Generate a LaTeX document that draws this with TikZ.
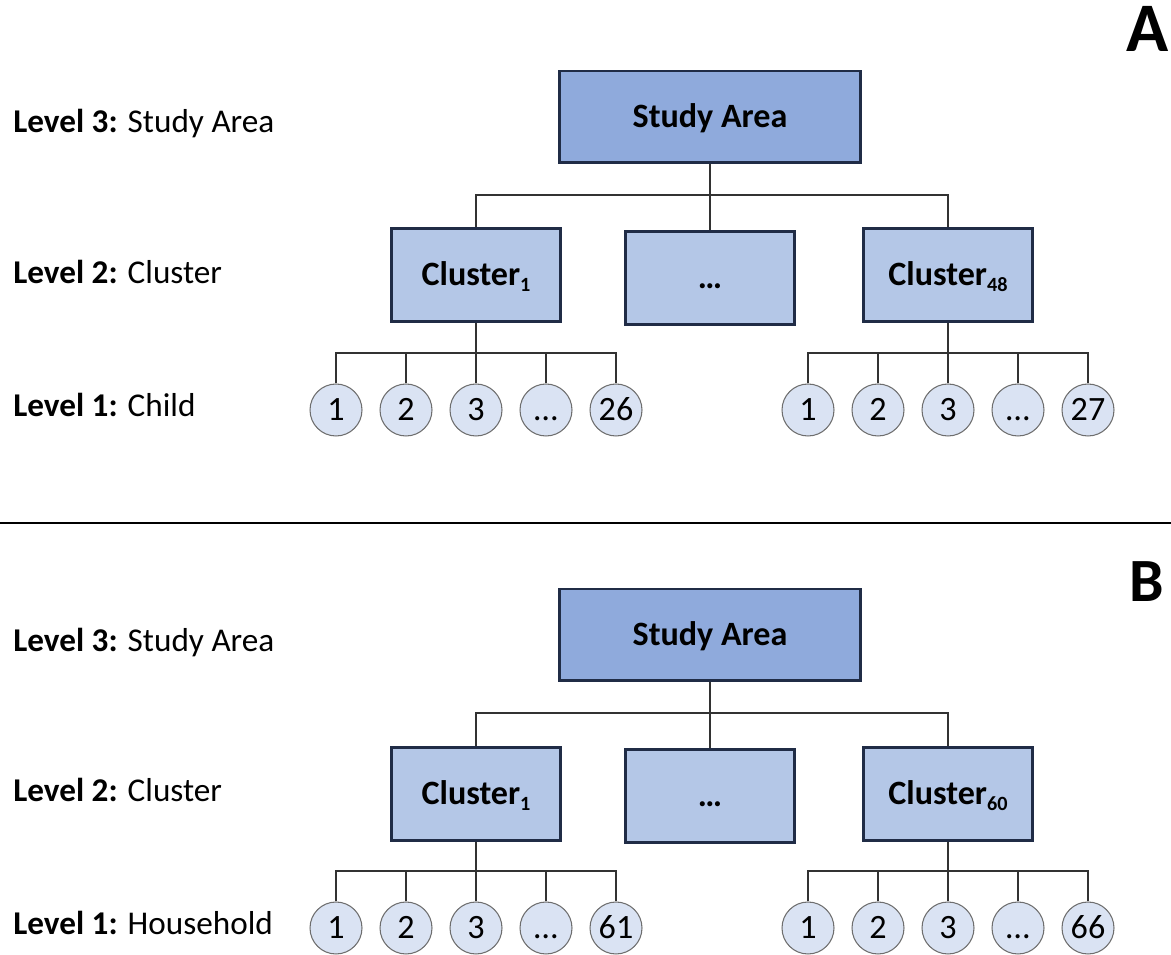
\documentclass[tikz,border=0pt]{standalone}
\usepackage{fontspec}
\setmainfont{Carlito}
\usepackage{tikz}
\definecolor{areablue}{RGB}{143,170,220}
\definecolor{clusterblue}{RGB}{180,199,231}
\definecolor{unitblue}{RGB}{218,227,243}
\definecolor{navy}{RGB}{32,44,70}
\definecolor{ringgrey}{RGB}{110,110,110}
\definecolor{linegrey}{RGB}{50,50,50}
\newcommand{\clidx}[1]{\raisebox{-3.4pt}{\fontsize{11.5}{11.5}\selectfont #1}}
\tikzset{%
    area/.style={draw=navy, line width=1.7pt, fill=areablue,
        minimum width=6.04cm, minimum height=1.84cm,
        text height=12.3pt, text depth=0pt,
        font=\fontsize{19.4}{22}\selectfont\bfseries},
    cluster/.style={draw=navy, line width=1.7pt, fill=clusterblue,
        minimum width=3.38cm, minimum height=1.86cm,
        text height=12.3pt, text depth=0pt,
        font=\fontsize{19.4}{22}\selectfont\bfseries},
    unit/.style={circle, draw=ringgrey, line width=0.6pt, fill=unitblue,
        minimum size=1.04cm, inner sep=0pt,
        text height=12.3pt, text depth=0pt,
        font=\fontsize{19.4}{22}\selectfont},
    level/.style={anchor=base west, inner sep=0pt, font=\fontsize{18.9}{21}\selectfont},
    panel/.style={anchor=base, inner sep=0pt},
    branch/.style={draw=linegrey, line width=0.8pt}
}

\begin{document}
\begin{tikzpicture}[x=0.02cm, y=-0.02cm]
    \useasboundingbox (0,0) rectangle (1171,955);
%    panel A
    \node[panel, font=\fontsize{39.6}{42}\selectfont\bfseries] (labA) at (1148,52) {A};
    \node[level] (lvA3) at (13,133) {\textbf{Level 3:} Study Area};
    \node[level] (lvA2) at (13,284) {\textbf{Level 2:} Cluster};
    \node[level] (lvA1) at (13,417) {\textbf{Level 1:} Child};
    \node[area] (saA) at (710,117) {Study Area};
    \node[cluster] (cA1) at (476,275) {Cluster\clidx{1}};
    \node[cluster] (cAdots) at (710,278) {…};
    \node[cluster] (cA48) at (948,275) {Cluster\clidx{48}};
    \node[unit] (kA11) at (336,410) {1};
    \node[unit] (kA12) at (406,410) {2};
    \node[unit] (kA13) at (476,410) {3};
    \node[unit] (kA14) at (546,410) {…};
    \node[unit] (kA15) at (616,410) {26};
    \node[unit] (kA21) at (808,410) {1};
    \node[unit] (kA22) at (878,410) {2};
    \node[unit] (kA23) at (948,410) {3};
    \node[unit] (kA24) at (1018,410) {…};
    \node[unit] (kA25) at (1088,410) {27};
    \coordinate (busA) at (710,195);
    \coordinate (kbusA1) at (476,353);
    \coordinate (kbusA2) at (948,353);
    \draw[branch] (saA) -- (cAdots);
    \draw[branch] (cA1.north) |- (busA) -| (cA48.north);
    \draw[branch] (cA1) -- (kA13);
    \draw[branch] (kA11.north) |- (kbusA1) -| (kA15.north);
    \draw[branch] (kA12.north) -- (kA12.north |- kbusA1);
    \draw[branch] (kA14.north) -- (kA14.north |- kbusA1);
    \draw[branch] (cA48) -- (kA23);
    \draw[branch] (kA21.north) |- (kbusA2) -| (kA25.north);
    \draw[branch] (kA22.north) -- (kA22.north |- kbusA2);
    \draw[branch] (kA24.north) -- (kA24.north |- kbusA2);
%    separator
    \draw[line width=0.8pt] (0,523) -- (1171,523);
%    panel B
    \node[panel, font=\fontsize{35}{38}\selectfont\bfseries] (labB) at (1147,602) {B};
    \node[level] (lvB3) at (13,652) {\textbf{Level 3:} Study Area};
    \node[level] (lvB2) at (13,802) {\textbf{Level 2:} Cluster};
    \node[level] (lvB1) at (13,935) {\textbf{Level 1:} Household};
    \node[area] (saB) at (710,635) {Study Area};
    \node[cluster] (cB1) at (476,794) {Cluster\clidx{1}};
    \node[cluster] (cBdots) at (710,796) {…};
    \node[cluster] (cB60) at (948,794) {Cluster\clidx{60}};
    \node[unit] (kB11) at (336,928) {1};
    \node[unit] (kB12) at (406,928) {2};
    \node[unit] (kB13) at (476,928) {3};
    \node[unit] (kB14) at (546,928) {…};
    \node[unit] (kB15) at (616,928) {61};
    \node[unit] (kB21) at (808,928) {1};
    \node[unit] (kB22) at (878,928) {2};
    \node[unit] (kB23) at (948,928) {3};
    \node[unit] (kB24) at (1018,928) {…};
    \node[unit] (kB25) at (1088,928) {66};
    \coordinate (busB) at (710,713);
    \coordinate (kbusB1) at (476,871);
    \coordinate (kbusB2) at (948,871);
    \draw[branch] (saB) -- (cBdots);
    \draw[branch] (cB1.north) |- (busB) -| (cB60.north);
    \draw[branch] (cB1) -- (kB13);
    \draw[branch] (kB11.north) |- (kbusB1) -| (kB15.north);
    \draw[branch] (kB12.north) -- (kB12.north |- kbusB1);
    \draw[branch] (kB14.north) -- (kB14.north |- kbusB1);
    \draw[branch] (cB60) -- (kB23);
    \draw[branch] (kB21.north) |- (kbusB2) -| (kB25.north);
    \draw[branch] (kB22.north) -- (kB22.north |- kbusB2);
    \draw[branch] (kB24.north) -- (kB24.north |- kbusB2);
\end{tikzpicture}
\end{document}
